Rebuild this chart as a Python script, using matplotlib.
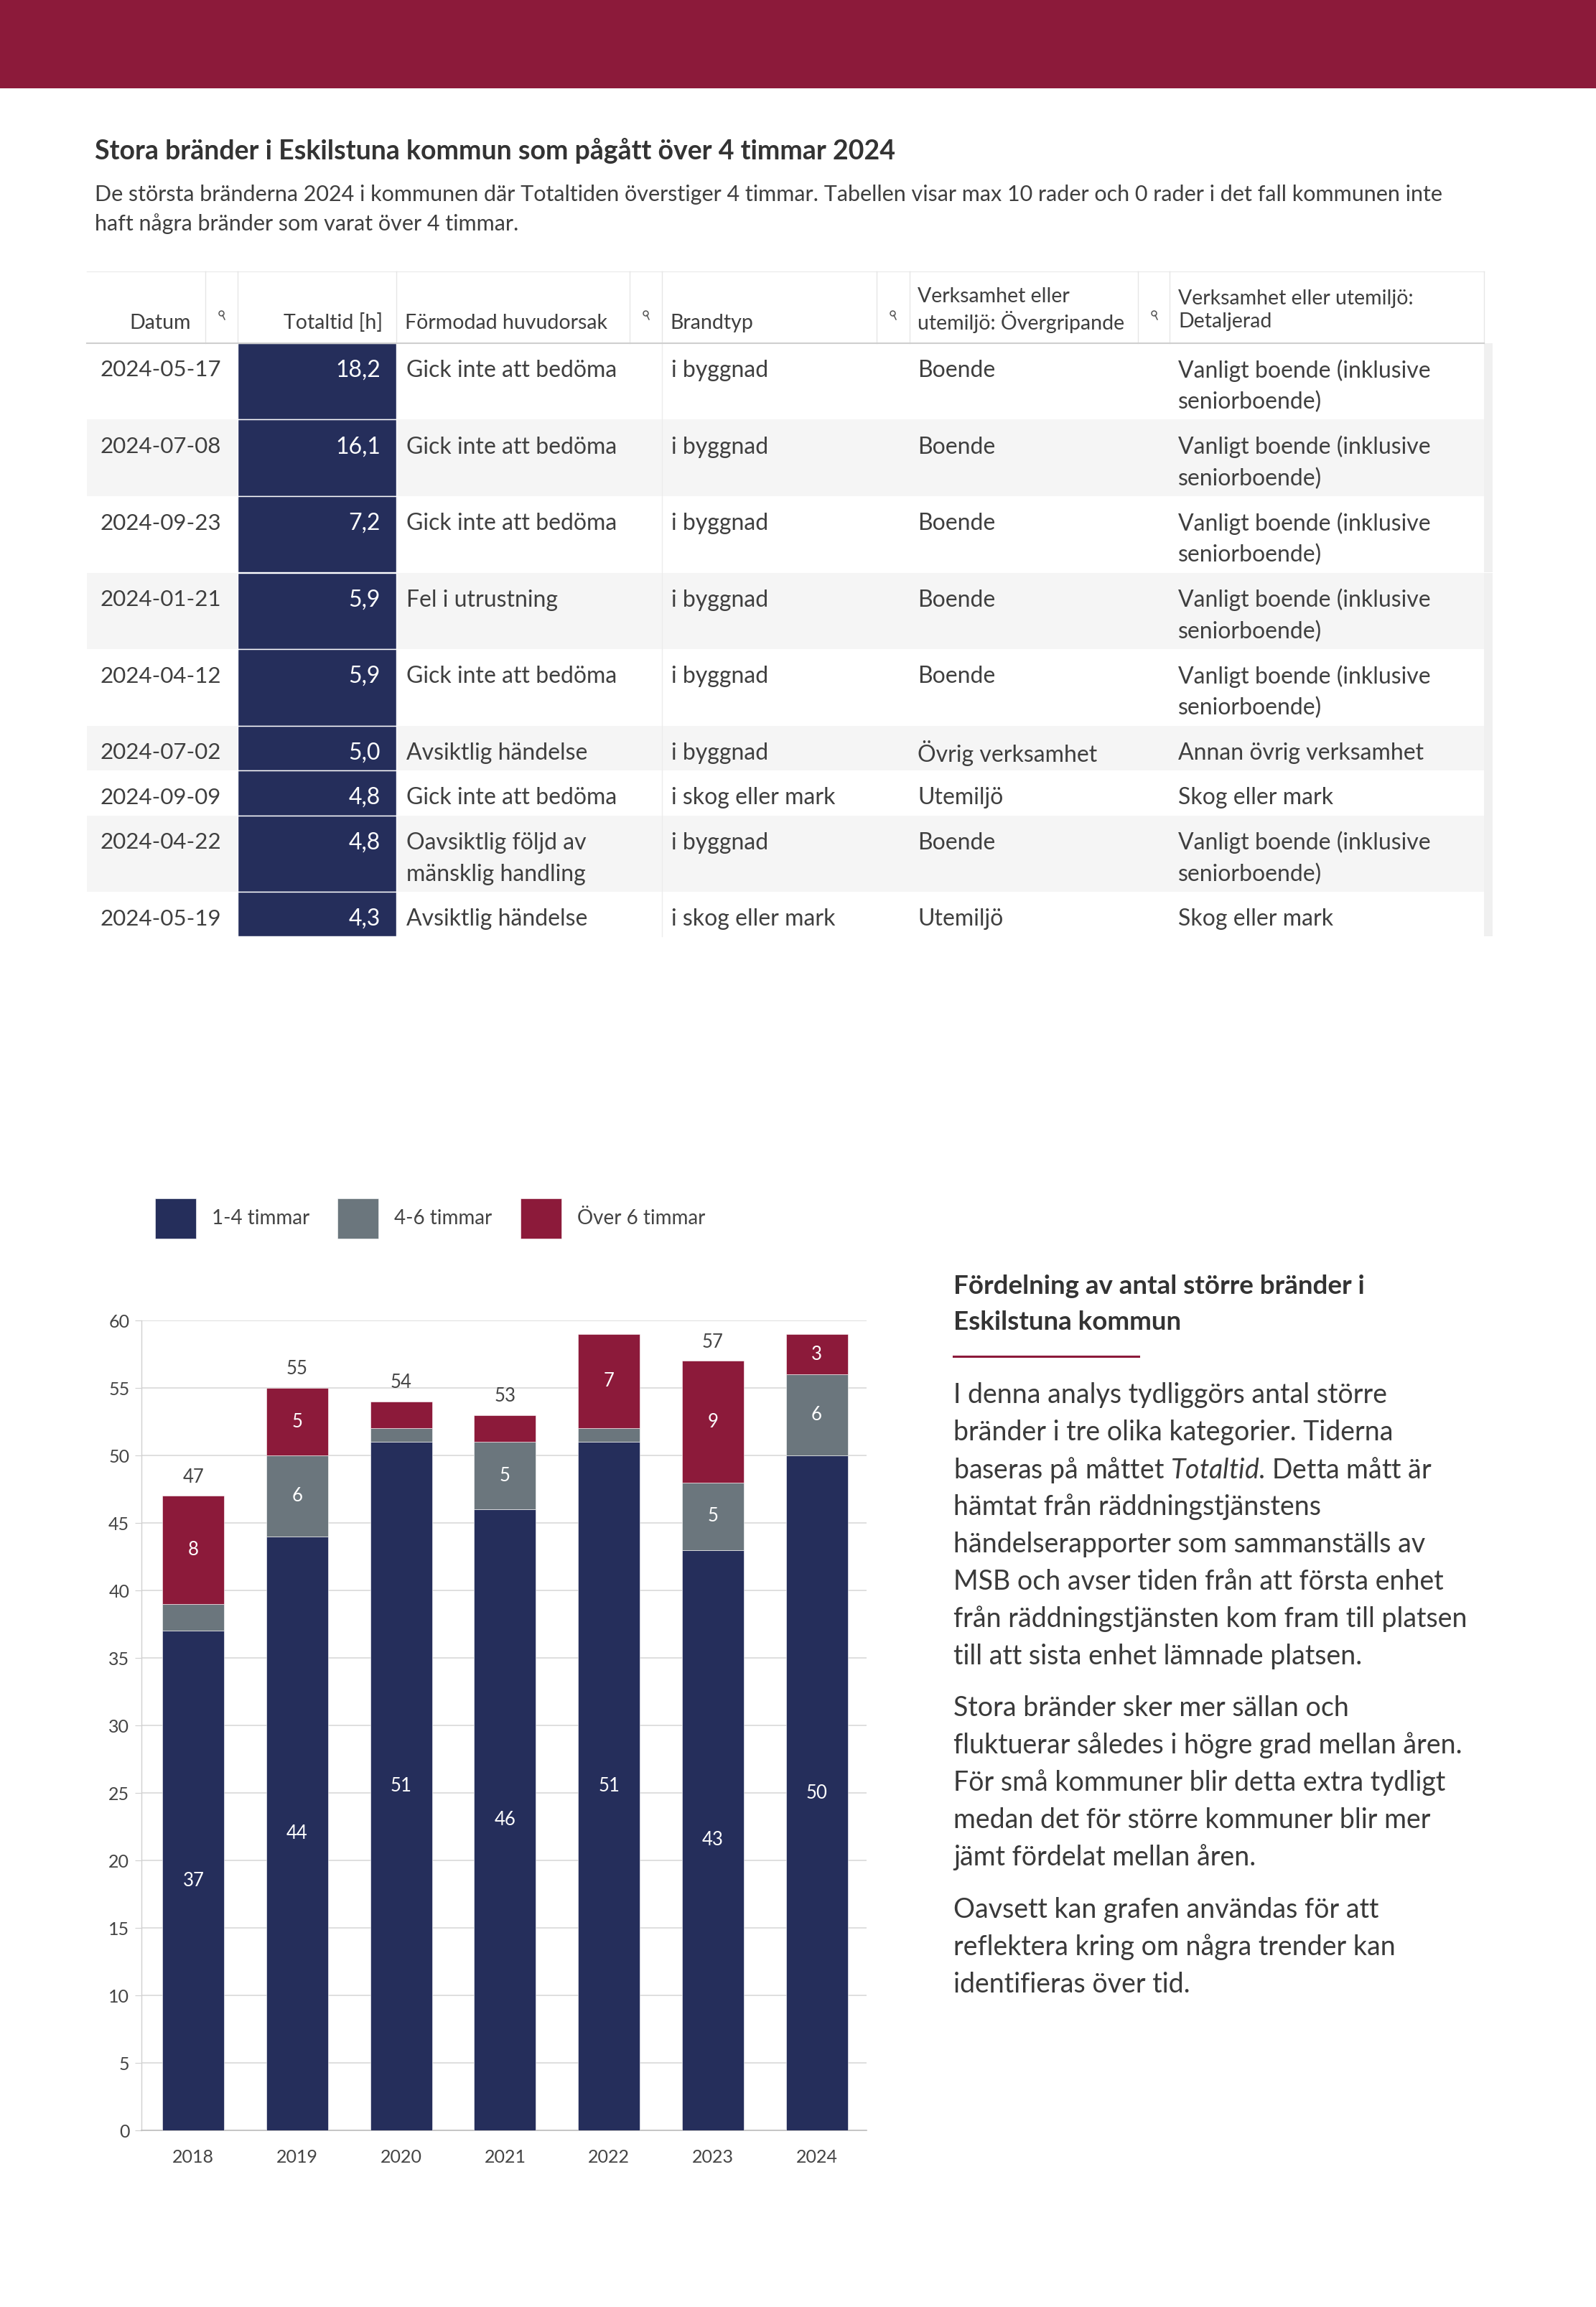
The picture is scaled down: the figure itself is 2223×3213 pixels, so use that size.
"""Stora bränder i Eskilstuna kommun - tabell + staplat stapeldiagram."""

import textwrap

import matplotlib

matplotlib.use("Agg")
import matplotlib.pyplot as plt
import numpy as np
from matplotlib.patches import Rectangle

W, H = 2223, 3213
DPI = 100

NAVY = "#252e5b"
GREY = "#6b767d"
WINE = "#8c1a3a"
TEXT = "#3f3f3f"

plt.rcParams["font.family"] = ["Lato", "DejaVu Sans"]
plt.rcParams["mathtext.fontset"] = "custom"
plt.rcParams["mathtext.it"] = "Lato:italic"
plt.rcParams["mathtext.rm"] = "Lato"

# --- tabell ---
headers = ["Datum", "Totaltid [h]", "Förmodad huvudorsak", "Brandtyp",
           "Verksamhet eller\nutemiljö: Övergripande",
           "Verksamhet eller utemiljö:\nDetaljerad"]
datum = ["2024-05-17", "2024-07-08", "2024-09-23", "2024-01-21", "2024-04-12",
         "2024-07-02", "2024-09-09", "2024-04-22", "2024-05-19"]
totaltid = [18.2, 16.1, 7.2, 5.9, 5.9, 5.0, 4.8, 4.8, 4.3]
orsak = ["Gick inte att bedöma", "Gick inte att bedöma", "Gick inte att bedöma",
         "Fel i utrustning", "Gick inte att bedöma", "Avsiktlig händelse",
         "Gick inte att bedöma", "Oavsiktlig följd av mänsklig handling",
         "Avsiktlig händelse"]
brandtyp = ["i byggnad", "i byggnad", "i byggnad", "i byggnad", "i byggnad",
            "i byggnad", "i skog eller mark", "i byggnad", "i skog eller mark"]
overgripande = ["Boende", "Boende", "Boende", "Boende", "Boende",
                "Övrig verksamhet", "Utemiljö", "Boende", "Utemiljö"]
detaljerad = ["Vanligt boende (inklusive seniorboende)"] * 5 + [
    "Annan övrig verksamhet", "Skog eller mark",
    "Vanligt boende (inklusive seniorboende)", "Skog eller mark"]

# --- diagram ---
years = ["2018", "2019", "2020", "2021", "2022", "2023", "2024"]
h1_4 = [37, 44, 51, 46, 51, 43, 50]
h4_6 = [2, 6, 1, 5, 1, 5, 6]
over6 = [8, 5, 2, 2, 7, 9, 3]
series_names = ["1-4 timmar", "4-6 timmar", "Över 6 timmar"]

title = "Stora bränder i Eskilstuna kommun som pågått över 4 timmar 2024"
subtitle = ["De största bränderna 2024 i kommunen där Totaltiden överstiger 4 timmar. "
            "Tabellen visar max 10 rader och 0 rader i det fall kommunen inte",
            "haft några bränder som varat över 4 timmar."]
side_head = ["Fördelning av antal större bränder i", "Eskilstuna kommun"]
side_paras = [
    ["I denna analys tydliggörs antal större",
     "bränder i tre olika kategorier. Tiderna",
     r"baseras på måttet $\mathit{Totaltid}$. Detta mått är",
     "hämtat från räddningstjänstens",
     "händelserapporter som sammanställs av",
     "MSB och avser tiden från att första enhet",
     "från räddningstjänsten kom fram till platsen",
     "till att sista enhet lämnade platsen."],
    ["Stora bränder sker mer sällan och",
     "fluktuerar således i högre grad mellan åren.",
     "För små kommuner blir detta extra tydligt",
     "medan det för större kommuner blir mer",
     "jämt fördelat mellan åren."],
    ["Oavsett kan grafen användas för att",
     "reflektera kring om några trender kan",
     "identifieras över tid."],
]

fig = plt.figure(figsize=(W / DPI, H / DPI), dpi=DPI)
bg = fig.add_axes([0, 0, 1, 1])
bg.set_xlim(0, W)
bg.set_ylim(H, 0)
bg.axis("off")

# banner + rubrik
bg.add_patch(Rectangle((0, 0), W, 123, color=WINE, lw=0))
bg.text(132, 210, title, fontsize=27, fontweight="bold", color="#333333", va="center")
for i, line in enumerate(subtitle):
    bg.text(132, 271 + 41 * i, line, fontsize=22, color=TEXT, va="center")

# tabellhuvud
edges = [121, 286, 331, 552, 877, 922, 1221, 1267, 1585, 1629, 2067]
head_top, head_bot = 378, 478
bg.plot([edges[0], edges[-1]], [head_top, head_top], color="#ececec", lw=1)
for e in edges[1:]:
    bg.plot([e, e], [head_top, head_bot], color="#e6e6e6", lw=1)
hfs = 20.5
bg.text(266, 450, headers[0], fontsize=hfs, color=TEXT, ha="right", va="center")
bg.text(533, 450, headers[1], fontsize=hfs, color=TEXT, ha="right", va="center")
bg.text(564, 450, headers[2], fontsize=hfs, color=TEXT, va="center")
bg.text(933, 450, headers[3], fontsize=hfs, color=TEXT, va="center")
bg.text(1278, 432, headers[4], fontsize=hfs, color=TEXT, va="center", linespacing=1.3)
bg.text(1641, 432, headers[5], fontsize=hfs, color=TEXT, va="center", linespacing=1.3)
for ix in [308, 899, 1243, 1607]:
    bg.plot(ix, 436, marker="o", ms=5, mfc="none", mec="#555555", mew=1.1)
    bg.plot([ix + 2, ix + 5], [439, 445], color="#555555", lw=1.1)

# rader
cfs = 23
y = head_bot
for r in range(len(datum)):
    cells = [textwrap.wrap(orsak[r], 20), [brandtyp[r]], [overgripande[r]],
             textwrap.wrap(detaljerad[r], 25)]
    n = max(len(c) for c in cells)
    h = 62.5 + 44 * (n - 1)
    face = "white" if r % 2 == 0 else "#f5f5f5"
    bg.add_patch(Rectangle((edges[0], y), edges[-1] - edges[0], h, color=face, lw=0))
    bg.add_patch(Rectangle((edges[-1], y), 12, h, color="#f0f0f0", lw=0))
    bg.add_patch(Rectangle((edges[2], y), edges[3] - edges[2], h,
                           facecolor=NAVY, edgecolor="white", lw=1))
    ty = y + 35
    bg.text(308, ty, datum[r], fontsize=22.5, color=TEXT, ha="right",
            va="center_baseline")
    bg.text(530, ty, f"{totaltid[r]:.1f}".replace(".", ","), fontsize=cfs,
            color="white", ha="right", va="center_baseline")
    for x0, lines in zip([566, 935, 1278, 1641], cells):
        for k, line in enumerate(lines):
            bg.text(x0, ty + 44 * k, line, fontsize=cfs, color=TEXT,
                    va="center_baseline")
    y += h
bg.plot([922, 922], [head_bot, y], color="#ececec", lw=1)
bg.plot([edges[0], edges[-1]], [head_bot, head_bot], color="#cfcfcf", lw=1.5)

# staplat diagram
ax = fig.add_axes([197 / W, 1 - 2967 / H, (1207 - 197) / W, (2967 - 1839) / H])
x = np.arange(len(years))
bottom = np.zeros(len(years))
handles = []
for vals, color, name in zip([h1_4, h4_6, over6], [NAVY, GREY, WINE], series_names):
    vals = np.array(vals)
    bars = ax.bar(x, vals, 0.594, bottom=bottom, color=color, edgecolor="white",
                  linewidth=0.4, zorder=3, label=name)
    handles.append(bars)
    for xi, b, v in zip(x, bottom, vals):
        if v >= 3:
            ax.text(xi, b + v / 2, str(v), ha="center", va="center",
                    color="white", fontsize=18.5, zorder=4)
    bottom = bottom + vals
for xi, t in zip(x, bottom):
    if t + 1.4 < 60:
        ax.text(xi, t + 1.4, str(int(t)), ha="center", va="center",
                color="#444444", fontsize=18.5)

ax.set_xlim(-0.5, 6.48)
ax.set_ylim(0, 60)
ax.set_yticks(range(0, 61, 5))
ax.set_xticks(x)
ax.set_xticklabels(years)
ax.grid(axis="y", color="#d9d9d9", lw=1.2, zorder=0)
for s in ["top", "right"]:
    ax.spines[s].set_visible(False)
ax.spines["left"].set_color("#d0d0d0")
ax.spines["bottom"].set_color("#bdbdbd")
ax.spines["left"].set_linewidth(1)
ax.spines["bottom"].set_linewidth(1.2)
ax.tick_params(axis="y", length=6.5, color="#d0d0d0", labelsize=18,
               labelcolor="#444444", pad=5.5)
ax.tick_params(axis="x", length=0, labelsize=18, labelcolor="#444444", pad=19)

fig.legend(handles, series_names, loc="center left",
           bbox_to_anchor=(216 / W, 1 - 1697 / H), ncol=3, frameon=False,
           fontsize=20, handlelength=2.05, handleheight=2.72, handletextpad=0.8,
           columnspacing=1.4, borderaxespad=0, borderpad=0, labelcolor="#444444")

# sidotext
for i, line in enumerate(side_head):
    bg.text(1328, 1791 + 50 * i, line, fontsize=26.5, fontweight="bold",
            color="#333333", va="center")
bg.plot([1328, 1586], [1889, 1889], color=WINE, lw=2.2)
for start, para in zip([1943, 2379, 2660], side_paras):
    for i, line in enumerate(para):
        bg.text(1328, start + 52 * i, line, fontsize=27, color="#3a3a3a", va="center")

fig.savefig("out.png", dpi=DPI)
